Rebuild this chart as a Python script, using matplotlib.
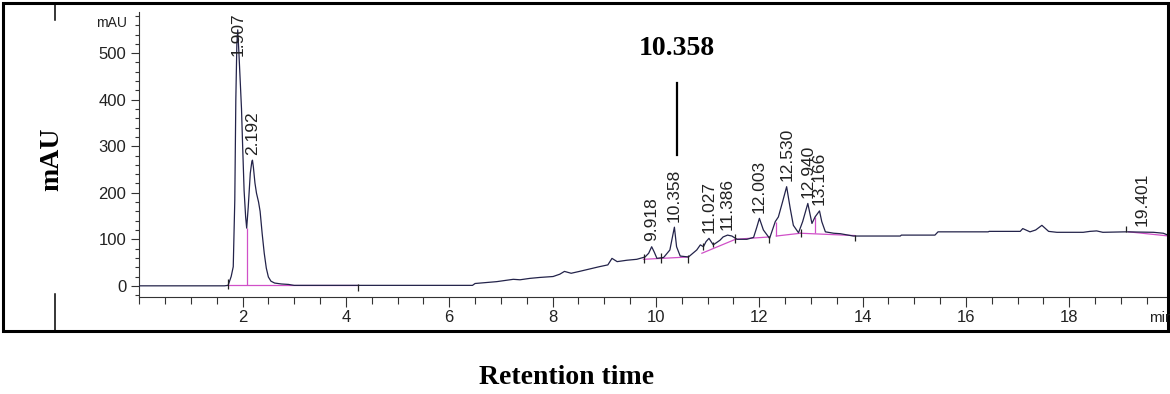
import numpy as np
import matplotlib.pyplot as plt
from matplotlib.patches import Rectangle
from matplotlib.ticker import MultipleLocator

# chromatogram trace (time in min, signal in mAU)
trace_t = [0.0, 1.65, 1.72, 1.78, 1.82, 1.85, 1.87, 1.89, 1.907, 1.93, 1.96, 1.98, 2.00,
           2.03, 2.06, 2.08, 2.11, 2.15, 2.18, 2.192, 2.21, 2.24, 2.27, 2.31, 2.34, 2.38,
           2.42, 2.46, 2.50, 2.55, 2.62, 2.75, 2.89, 3.0, 4.2, 6.45, 6.5, 6.92, 7.24, 7.37,
           7.56, 7.75, 8.01, 8.14, 8.23, 8.36, 8.52, 8.71, 8.90, 9.07, 9.15, 9.25, 9.44,
           9.63, 9.79, 9.86, 9.918, 9.97, 10.02, 10.15, 10.27, 10.32, 10.358, 10.40, 10.47,
           10.63, 10.79, 10.86, 10.92, 10.97, 11.027, 11.11, 11.24, 11.30, 11.386, 11.47,
           11.57, 11.76, 11.89, 11.95, 12.003, 12.08, 12.20, 12.31, 12.37, 12.45, 12.53,
           12.60, 12.66, 12.76, 12.84, 12.94, 13.02, 13.08, 13.166, 13.21, 13.28, 13.44,
           13.57, 13.82, 14.73, 14.75, 15.40, 15.46, 16.43, 16.45, 17.05, 17.10, 17.24,
           17.35, 17.47, 17.60, 17.76, 18.27, 18.40, 18.53, 18.65, 19.09, 19.63, 19.82, 19.93]
trace_mau = [0, 0, 1, 20, 41, 184, 400, 520, 550, 500, 428, 380, 307,
             205, 148, 124, 169, 242, 267, 270, 255, 221, 199, 180, 160, 112,
             70, 38, 19, 10, 6, 4, 3, 1, 1, 1, 5, 9, 14, 13,
             16, 18, 20, 25, 31, 27, 31, 36, 41, 45, 59, 52, 55,
             57, 62, 70, 84, 72, 59, 61, 77, 105, 126, 84, 64,
             62, 77, 88, 84, 95, 102, 88, 98, 105, 109, 107,
             100, 100, 104, 125, 145, 120, 102, 138, 148, 180, 213,
             166, 130, 114, 138, 177, 134, 148, 161, 138, 116, 113,
             112, 107, 107, 109, 109, 116, 116, 117, 117, 123, 116,
             120, 130, 117, 115, 115, 117, 118, 115, 116, 115, 113, 108]

# labelled peaks
peak_rt = [1.907, 2.192, 9.918, 10.358, 11.027, 11.386, 12.003, 12.530, 12.940, 13.166, 19.401]
peak_mau = [550, 270, 84, 126, 102, 109, 145, 213, 177, 161, 116]
peak_labels = ['1.907', '2.192', '9.918', '10.358', '11.027', '11.386', '12.003',
               '12.530', '12.940', '13.166', '19.401']

# integration baselines (start t, start mAU, end t, end mAU)
base_t0 = [1.72, 9.76, 10.89, 11.54, 12.33, 12.80, 19.15]
base_y0 = [1, 57, 70, 100, 107, 113, 116]
base_t1 = [4.24, 10.63, 11.54, 12.19, 12.80, 13.85, 19.93]
base_y1 = [1, 62, 100, 105, 113, 108, 107]

# drop lines and integration markers
drop_t = [2.08, 12.33, 13.08]
drop_lo = [1, 107, 114]
drop_hi = [124, 138, 148]
mark_t = [1.71, 4.24, 9.77, 10.09, 10.63, 10.92, 11.11, 11.54, 12.19, 12.80, 13.85, 19.09]
mark_lo = [-6, -12, 50, 48, 48, 78, 84, 93, 92, 104, 96, 115]
mark_hi = [15, 3, 68, 70, 66, 92, 94, 112, 108, 122, 110, 128]

fig = plt.figure(figsize=(11.7, 3.94), dpi=100)
ax = fig.add_axes([139.2 / 1170, 1 - 297 / 394, (1169 - 139.2) / 1170, (297 - 11.7) / 394])

trace_col = '#23234a'
pink = '#d050c8'
grey = '#333333'

ax.plot(trace_t, trace_mau, color=trace_col, lw=0.9, zorder=3)
for t0, y0, t1, y1 in zip(base_t0, base_y0, base_t1, base_y1):
    ax.plot([t0, t1], [y0, y1], color=pink, lw=0.9, zorder=2)
ax.vlines(drop_t, drop_lo, drop_hi, color=pink, lw=0.9, zorder=2)
ax.vlines(mark_t, mark_lo, mark_hi, color='#222222', lw=0.9, zorder=4)

for rt, h, lab in zip(peak_rt, peak_mau, peak_labels):
    if h > 400:
        ax.text(rt, 587, lab, rotation=90, ha='center', va='top', fontsize=12.5,
                family='Liberation Sans', color='#222222', zorder=5)
    else:
        ax.text(rt, h + 12, lab, rotation=90, ha='center', va='bottom', fontsize=12.5,
                family='Liberation Sans', color='#222222', zorder=5)

# highlighted peak
ax.plot([10.41, 10.41], [281, 436], color='black', lw=1.6, clip_on=False)
ax.text(10.41, 511, '10.358', ha='center', va='center', fontsize=20, fontweight='bold',
        family='Liberation Serif', clip_on=False)

ax.set_xlim(0, 19.93)
ax.set_ylim(-24, 589)
ax.xaxis.set_major_locator(MultipleLocator(2))
ax.xaxis.set_minor_locator(MultipleLocator(0.5))
ax.yaxis.set_major_locator(MultipleLocator(100))
ax.yaxis.set_minor_locator(MultipleLocator(20))
ax.set_xticks([2, 4, 6, 8, 10, 12, 14, 16, 18])
ax.set_yticks([0, 100, 200, 300, 400, 500])
ax.tick_params(axis='x', which='major', length=7.2, width=0.8, color=grey, pad=2,
               labelsize=12, labelcolor='#222222')
ax.tick_params(axis='x', which='minor', length=5, width=0.8, color=grey)
ax.tick_params(axis='y', which='major', length=5.8, width=0.8, color=grey, pad=3.5,
               labelsize=12, labelcolor='#222222')
ax.tick_params(axis='y', which='minor', length=3, width=0.8, color=grey)
for lab in ax.get_xticklabels() + ax.get_yticklabels():
    lab.set_family('Liberation Sans')
for s in ['top', 'right']:
    ax.spines[s].set_visible(False)
for s in ['left', 'bottom']:
    ax.spines[s].set_color(grey)
    ax.spines[s].set_linewidth(0.8)

fig.text(127 / 1170, 1 - 23 / 394, 'mAU', ha='right', va='center', fontsize=10,
         family='Liberation Sans', color='#222222')
fig.text(1149 / 1170, 1 - 318 / 394, 'min', ha='left', va='center', fontsize=11,
         family='Liberation Sans', color='#222222')

# outer frame and labels
fig.patches.append(Rectangle((3 / 1170, 1 - 331 / 394), 1165 / 1170, 328 / 394,
                             transform=fig.transFigure, fill=False, ec='black', lw=2.2))
fig.add_artist(plt.Line2D([54.5 / 1170] * 2, [1 - 3 / 394, 1 - 20 / 394],
                          transform=fig.transFigure, color='black', lw=1.1))
fig.add_artist(plt.Line2D([54.5 / 1170] * 2, [1 - 294 / 394, 1 - 331 / 394],
                          transform=fig.transFigure, color='black', lw=1.1))
fig.text(52 / 1170, 1 - 159 / 394, 'mAU', rotation=90, ha='center', va='center',
         fontsize=20, fontweight='bold', family='Liberation Serif')
fig.text(567 / 1170, 1 - 378 / 394, 'Retention time', ha='center', va='center',
         fontsize=20, fontweight='bold', family='Liberation Serif')

fig.savefig('out.png', dpi=100)
